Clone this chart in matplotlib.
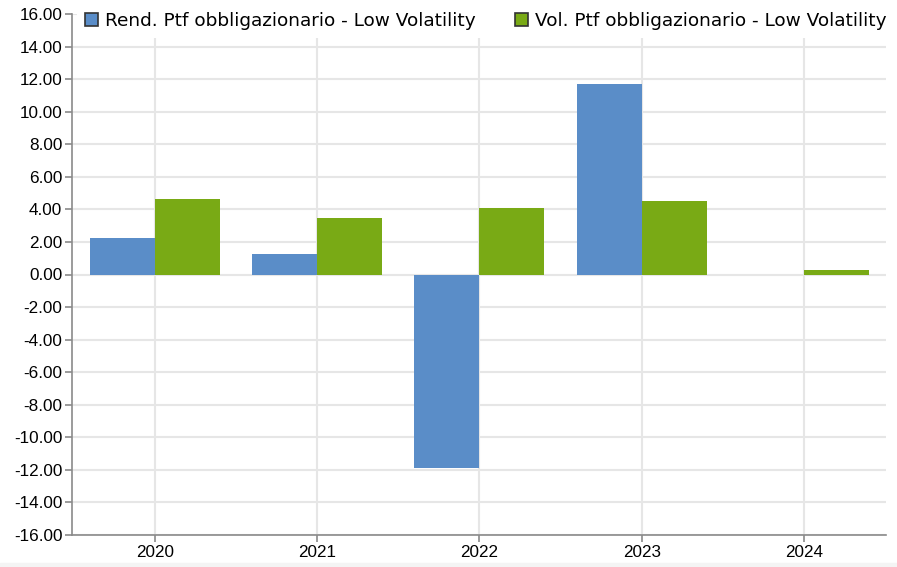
import matplotlib.pyplot as plt
from matplotlib.patches import Patch, Rectangle
import numpy as np

plt.rcParams['axes.unicode_minus'] = False

years = ['2020', '2021', '2022', '2023', '2024']
rendimento = [2.25, 1.25, -11.9, 11.72, 0.0]
volatilita = [4.64, 3.44, 4.11, 4.54, 0.25]
y_ticks = list(range(-16, 18, 2))

label_rend = 'Rend. Ptf obbligazionario - Low Volatility'
label_vol = 'Vol. Ptf obbligazionario - Low Volatility'
blue = '#5a8dc8'
green = '#79aa15'

fig = plt.figure(figsize=(8.97, 5.67), dpi=100)
ax = fig.add_axes([72 / 897, 32 / 567, 814 / 897, 521 / 567])

x = np.arange(len(years))
w = 0.4
ax.bar(x - w / 2, rendimento, w, color=blue, zorder=3)
ax.bar(x + w / 2, volatilita, w, color=green, zorder=3)

ax.set_xlim(-0.51, 4.505)
ax.set_ylim(-16, 16)
ax.set_xticks(x)
ax.set_xticklabels(years, family='Liberation Sans', fontsize=12.3)
ax.set_yticks(y_ticks)
ax.set_yticklabels(['%.2f' % v for v in y_ticks], family='Liberation Sans', fontsize=12.3)
ax.grid(True, color='#e6e6e6', linewidth=1.5, zorder=0)
ax.set_axisbelow(True)

for s in ['top', 'right']:
    ax.spines[s].set_visible(False)
for s in ['left', 'bottom']:
    ax.spines[s].set_color('#8a8a8a')
    ax.spines[s].set_linewidth(1.2)
ax.tick_params(axis='both', colors='#8a8a8a', length=5, width=1.2, labelcolor='black', pad=2)

handles = [Patch(facecolor=blue, edgecolor='#333333', linewidth=1.2),
           Patch(facecolor=green, edgecolor='#333333', linewidth=1.2)]
leg = fig.legend(handles, [label_rend, label_vol], loc='upper left',
                 bbox_to_anchor=(77 / 897, 1 - 4 / 567), ncol=2, frameon=True,
                 handlelength=0.7, handleheight=0.7,
                 handletextpad=0.38, columnspacing=2.15, borderpad=0.42,
                 borderaxespad=0.0, prop={'family': 'DejaVu Sans', 'size': 13.3})
leg.get_frame().set_facecolor('white')
leg.get_frame().set_edgecolor('none')
leg.get_frame().set_alpha(1)

fig.patches.append(Rectangle((0, 0), 1, 4 / 567, transform=fig.transFigure,
                             color='#f4f4f4', zorder=0))

fig.savefig('out.png', dpi=100)
